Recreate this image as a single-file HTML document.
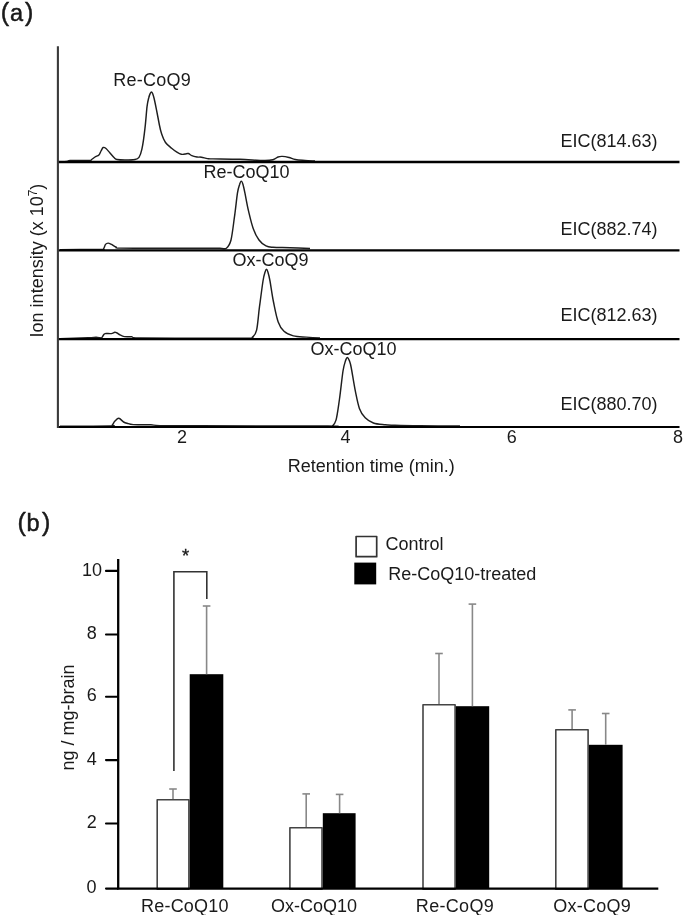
<!DOCTYPE html>
<html><head><meta charset="utf-8"><style>
html,body{margin:0;padding:0;background:#fff;}
body{width:685px;height:915px;overflow:hidden;position:relative;}
svg{position:absolute;left:0;top:0;display:block;filter:blur(0.45px);}
text{font-family:'Liberation Sans',sans-serif;fill:#1a1a1a;}
</style></head><body>
<svg width="685" height="915" viewBox="0 0 685 915">
<!-- panel a -->
<g stroke="#111" stroke-width="0.45"><text x="0.7" y="21" font-size="25">(</text><text x="10" y="21" font-size="23.5">a</text><text x="25" y="21" font-size="25">)</text></g>
<path d="M60.0 161.6 C61.2 161.6 65.3 161.6 67.0 161.4 C68.7 161.2 66.3 160.6 70.0 160.4 C73.7 160.2 85.4 160.6 89.0 160.4 C92.6 160.2 90.6 160.1 91.6 159.5 C92.6 158.9 93.8 157.8 95.0 157.0 C96.2 156.2 97.9 156.0 98.9 155.0 C99.9 154.0 100.3 152.2 101.0 151.0 C101.7 149.8 102.4 147.9 103.2 147.5 C104.0 147.1 104.9 147.6 106.0 148.5 C107.1 149.4 108.7 151.5 110.0 153.0 C111.3 154.5 112.8 156.4 114.0 157.5 C115.2 158.6 115.3 159.1 117.1 159.5 C118.9 159.9 122.0 160.0 125.0 160.0 C128.0 160.0 132.7 159.9 135.0 159.5 C137.3 159.1 137.8 159.0 139.0 157.3 C140.2 155.6 140.9 153.9 141.9 149.2 C142.9 144.4 144.1 135.9 144.9 128.8 C145.8 121.8 146.4 112.0 147.0 106.9 C147.6 101.8 148.1 100.3 148.7 98.0 C149.2 95.7 149.9 94.3 150.3 93.3 C150.8 92.3 151.0 91.9 151.4 91.9 C151.8 91.9 152.1 92.3 152.5 93.3 C152.9 94.3 153.3 95.2 154.0 98.0 C154.7 100.8 155.6 105.3 156.5 109.8 C157.4 114.3 158.6 121.0 159.4 125.0 C160.2 129.0 160.6 130.9 161.6 133.8 C162.6 136.7 163.8 140.1 165.5 142.5 C167.2 144.9 169.7 146.6 171.6 148.2 C173.5 149.8 175.3 151.1 176.9 152.1 C178.5 153.1 180.0 154.0 181.3 154.3 C182.7 154.6 183.8 154.1 185.0 154.0 C186.2 153.9 187.2 153.2 188.3 153.5 C189.4 153.8 190.4 155.0 191.8 155.6 C193.2 156.2 195.4 156.7 197.0 157.0 C198.6 157.3 199.7 156.9 201.4 157.2 C203.2 157.5 205.6 158.3 207.5 158.6 C209.4 158.9 207.6 158.8 213.0 158.9 C218.4 159.0 231.3 159.0 240.0 159.3 C248.7 159.6 259.4 160.5 265.0 160.5 C270.6 160.5 271.3 160.1 273.5 159.5 C275.7 158.9 276.5 157.5 278.0 157.0 C279.5 156.5 280.5 156.3 282.3 156.4 C284.1 156.5 286.8 157.0 289.0 157.5 C291.2 158.0 292.7 159.0 295.4 159.5 C298.1 160.0 301.7 160.2 305.0 160.5 C308.3 160.8 313.3 160.9 315.0 161.0" fill="none" stroke="#1e1e1e" stroke-width="1.45" stroke-linejoin="round"/>
<path d="M60.0 249.6 C66.7 249.6 92.8 249.5 100.0 249.4 C107.2 249.3 102.4 250.0 103.3 249.2 C104.2 248.4 104.7 245.4 105.5 244.4 C106.3 243.4 107.1 243.1 108.1 243.1 C109.1 243.1 110.3 243.8 111.6 244.4 C112.9 245.1 114.7 246.4 116.0 247.0 C117.3 247.6 113.8 247.9 119.5 248.1 C125.2 248.3 136.6 248.2 150.0 248.2 C163.4 248.2 188.3 248.3 200.0 248.3 C211.7 248.3 215.6 248.3 220.0 248.3 C224.4 248.3 224.6 249.6 226.4 248.2 C228.2 246.8 229.7 245.2 231.0 240.0 C232.3 234.8 233.4 224.5 234.5 216.7 C235.6 208.9 236.6 198.8 237.4 193.4 C238.2 188.0 238.9 186.6 239.6 184.5 C240.2 182.4 240.7 181.1 241.3 181.1 C241.9 181.1 242.4 182.4 243.0 184.5 C243.6 186.6 244.1 189.0 245.0 193.4 C245.9 197.8 247.1 205.1 248.5 210.9 C249.9 216.7 251.4 223.6 253.2 228.4 C254.9 233.2 256.9 237.1 259.0 240.0 C261.1 242.9 263.7 244.7 266.0 245.9 C268.3 247.1 269.0 247.0 273.0 247.3 C277.0 247.6 283.8 247.5 290.0 247.7 C296.2 247.9 306.7 248.4 310.0 248.5" fill="none" stroke="#1e1e1e" stroke-width="1.45" stroke-linejoin="round"/>
<path d="M60.0 338.6 C64.7 338.5 82.0 338.0 88.0 337.8 C94.0 337.6 94.0 337.3 96.0 337.3 C98.0 337.3 99.1 337.7 100.0 337.8 C100.9 337.9 101.0 338.3 101.6 337.8 C102.2 337.3 102.9 335.7 103.5 335.0 C104.1 334.3 103.8 333.8 105.1 333.6 C106.4 333.4 109.7 333.8 111.3 333.6 C112.9 333.4 113.8 332.4 114.8 332.3 C115.8 332.2 116.1 332.6 117.0 333.0 C117.9 333.4 118.8 334.3 120.0 334.9 C121.2 335.5 122.5 336.3 124.4 336.6 C126.3 336.9 128.8 336.6 131.4 336.8 C134.0 337.0 128.6 337.8 140.0 338.0 C151.4 338.2 182.0 338.2 200.0 338.2 C218.0 338.2 239.2 338.4 248.0 338.2 C256.8 338.0 251.1 338.5 252.5 337.1 C253.9 335.8 255.4 335.2 256.6 330.1 C257.8 325.0 258.4 314.9 259.5 306.7 C260.6 298.5 262.1 286.8 263.0 281.0 C263.9 275.2 264.5 273.9 265.1 272.0 C265.7 270.1 266.0 269.3 266.5 269.3 C267.0 269.3 267.3 270.1 267.9 272.0 C268.5 273.9 269.1 276.0 270.0 281.0 C270.9 286.0 272.1 295.2 273.5 302.0 C274.9 308.8 276.4 317.0 278.2 321.9 C279.9 326.8 281.5 329.0 284.0 331.3 C286.5 333.6 289.7 334.9 293.4 335.9 C297.1 336.9 301.8 336.8 306.2 337.1 C310.6 337.5 317.7 337.9 320.0 338.0" fill="none" stroke="#1e1e1e" stroke-width="1.45" stroke-linejoin="round"/>
<path d="M60.0 426.2 C68.3 426.2 101.3 426.2 110.0 426.0 C118.7 425.8 111.5 425.9 112.3 425.1 C113.1 424.3 113.8 422.2 114.9 421.1 C116.0 420.0 117.3 418.2 118.8 418.3 C120.2 418.4 122.2 421.2 123.6 422.0 C125.0 422.8 125.5 422.9 127.1 423.3 C128.7 423.7 129.4 424.4 133.3 424.6 C137.2 424.9 146.4 424.6 150.8 424.8 C155.2 425.0 151.8 425.4 160.0 425.6 C168.2 425.8 172.0 425.7 200.0 425.8 C228.0 425.9 306.0 425.9 328.0 426.0 C350.0 426.1 330.6 427.5 331.9 426.5 C333.2 425.5 334.7 424.7 336.0 420.1 C337.3 415.5 338.3 407.2 339.5 399.0 C340.7 390.8 342.0 377.4 343.0 371.0 C344.0 364.6 344.9 362.8 345.6 360.5 C346.3 358.2 346.8 357.4 347.4 357.4 C348.0 357.4 348.7 358.8 349.3 360.5 C349.9 362.2 350.2 362.4 351.2 367.5 C352.2 372.6 353.9 384.1 355.3 390.9 C356.7 397.7 357.8 403.9 359.4 408.4 C361.0 412.9 362.9 415.4 365.2 417.8 C367.5 420.2 370.1 421.8 373.4 423.0 C376.7 424.2 381.5 424.4 385.1 424.8 C388.7 425.2 389.2 425.1 395.0 425.3 C400.8 425.5 409.2 425.7 420.0 425.8 C430.8 425.9 453.3 426.0 460.0 426.0" fill="none" stroke="#1e1e1e" stroke-width="1.45" stroke-linejoin="round"/>

<g stroke="#000" stroke-width="2.2" fill="none">
<line x1="58" y1="162" x2="679.5" y2="162" stroke-width="2.4"/>
<line x1="58" y1="250.4" x2="679.5" y2="250.4"/>
<line x1="58" y1="339.2" x2="679.5" y2="339.2"/>
<line x1="57" y1="427" x2="679.5" y2="427"/>
</g>
<line x1="57.9" y1="46.3" x2="57.9" y2="428" stroke="#3a3a3a" stroke-width="2.1"/>
<g font-size="18">
<text x="113.3" y="86.1" letter-spacing="0.25">Re-CoQ9</text>
<text x="203.5" y="177.5">Re-CoQ10</text>
<text x="232.5" y="265.8">Ox-CoQ9</text>
<text x="310.5" y="354.7">Ox-CoQ10</text>
<text x="560.4" y="147.3">EIC(814.63)</text>
<text x="560.4" y="235.2">EIC(882.74)</text>
<text x="560.4" y="320.6">EIC(812.63)</text>
<text x="560.4" y="409.5">EIC(880.70)</text>
<g text-anchor="middle">
<text x="181.9" y="442.9">2</text>
<text x="345.6" y="442.9">4</text>
<text x="511.7" y="442.9">6</text>
<text x="678" y="442.9">8</text>
</g>
<text x="287.7" y="471.9">Retention time (min.)</text>
<text transform="translate(42.7,337.4) rotate(-90)">Ion intensity (x 10<tspan font-size="12" dy="-6">7</tspan><tspan dy="6">)</tspan></text>
</g>
<!-- panel b -->
<g stroke="#111" stroke-width="0.45"><text x="17.5" y="530.6" font-size="25">(</text><text x="26.5" y="530.6" font-size="23.5">b</text><text x="42" y="530.6" font-size="25">)</text></g>
<rect x="157.2" y="799.7" width="31.7" height="89.6" fill="#fff" stroke="#444" stroke-width="1.6" stroke-linejoin="round"/>
<rect x="189.7" y="674.2" width="33.6" height="214.3" fill="#000"/>
<rect x="289.9" y="827.8" width="32.1" height="61.5" fill="#fff" stroke="#444" stroke-width="1.6" stroke-linejoin="round"/>
<rect x="322.8" y="813.2" width="32.8" height="75.3" fill="#000"/>
<rect x="423.0" y="704.7" width="32.1" height="184.6" fill="#fff" stroke="#444" stroke-width="1.6" stroke-linejoin="round"/>
<rect x="455.9" y="706.2" width="33.3" height="182.3" fill="#000"/>
<rect x="555.8" y="729.8" width="32.3" height="159.5" fill="#fff" stroke="#444" stroke-width="1.6" stroke-linejoin="round"/>
<rect x="588.9" y="744.8" width="33.7" height="143.7" fill="#000"/>

<g stroke="#888" stroke-width="1.6">
<line x1="173.0" y1="798.9" x2="173.0" y2="789.0"/><line x1="169.2" y1="789.0" x2="176.8" y2="789.0"/>
<line x1="206.6" y1="674.2" x2="206.6" y2="606.0"/><line x1="202.8" y1="606.0" x2="210.4" y2="606.0"/>
<line x1="306.2" y1="827.0" x2="306.2" y2="793.9"/><line x1="302.4" y1="793.9" x2="310.0" y2="793.9"/>
<line x1="339.6" y1="813.2" x2="339.6" y2="794.4"/><line x1="335.8" y1="794.4" x2="343.4" y2="794.4"/>
<line x1="439.0" y1="703.9" x2="439.0" y2="653.5"/><line x1="435.2" y1="653.5" x2="442.8" y2="653.5"/>
<line x1="472.4" y1="706.2" x2="472.4" y2="604.1"/><line x1="468.6" y1="604.1" x2="476.2" y2="604.1"/>
<line x1="572.1" y1="729.0" x2="572.1" y2="709.9"/><line x1="568.3" y1="709.9" x2="575.9" y2="709.9"/>
<line x1="605.7" y1="744.8" x2="605.7" y2="713.5"/><line x1="601.9" y1="713.5" x2="609.5" y2="713.5"/>

</g>
<path d="M173.9 771 V571.8 H206.8 V599" fill="none" stroke="#333" stroke-width="1.6"/>
<g stroke="#000" stroke-width="2.3">
<line x1="118.2" y1="559" x2="118.2" y2="889"/>
<line x1="117" y1="888.6" x2="658.3" y2="888.6"/>
</g>
<g stroke="#000" stroke-width="2.1" stroke-linecap="round">
<line x1="106" y1="570.9" x2="118" y2="570.9"/>
<line x1="106" y1="634.5" x2="118" y2="634.5"/>
<line x1="106" y1="696.8" x2="118" y2="696.8"/>
<line x1="106" y1="760.1" x2="118" y2="760.1"/>
<line x1="106" y1="823.5" x2="118" y2="823.5"/>
<line x1="106" y1="888.6" x2="118" y2="888.6"/>
</g>
<g font-size="18" text-anchor="middle">
<text x="92" y="575.5">10</text>
<text x="91.7" y="639.3">8</text>
<text x="91.7" y="701.4">6</text>
<text x="91.7" y="765">4</text>
<text x="91.7" y="828.3">2</text>
<text x="91.5" y="893.2">0</text>
<text x="185.7" y="562.2" font-size="18.5" stroke="#111" stroke-width="0.3">*</text>
</g>
<text font-size="18" text-anchor="middle" transform="translate(74.4,717.5) rotate(-90)">ng / mg-brain</text>
<rect x="356.1" y="536.5" width="20.6" height="20.2" fill="#fff" stroke="#333" stroke-width="1.7" stroke-linejoin="round"/>
<rect x="354.3" y="562.6" width="21.9" height="21.8" fill="#000"/>
<g font-size="18">
<text x="385.6" y="550.2">Control</text>
<text x="388.2" y="579.8">Re-CoQ10-treated</text>
<text x="141.1" y="912" letter-spacing="0.18">Re-CoQ10</text>
<text x="271" y="912">Ox-CoQ10</text>
<text x="415.8" y="912" letter-spacing="0.33">Re-CoQ9</text>
<text x="553.2" y="912" letter-spacing="0.28">Ox-CoQ9</text>
</g>
</svg>
</body></html>
